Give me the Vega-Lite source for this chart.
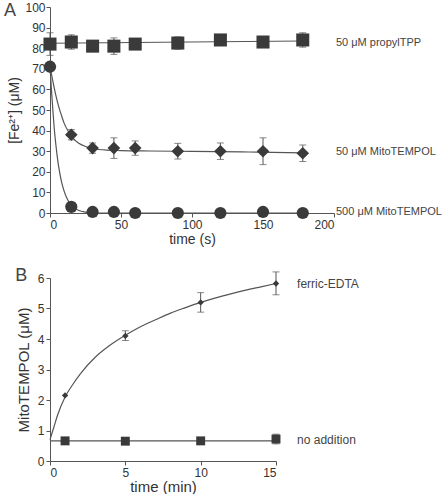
{
  "$schema": "https://vega.github.io/schema/vega-lite/v6.json",
  "padding": {"left": 3, "top": 1, "right": 0, "bottom": 0},
  "spacing": 21,
  "resolve": {"scale": {"shape": "independent", "size": "independent"}},
  "config": {
    "view": {"stroke": null},
    "font": "Liberation Sans",
    "axis": {"grid": false, "domainColor": "#555", "tickColor": "#555", "labelColor": "#333", "titleColor": "#333", "labelFont": "Liberation Sans", "titleFont": "Liberation Sans", "labelFontSize": 12, "titleFontSize": 14, "titleFontWeight": "normal", "tickSize": 4, "labelPadding": 2}
  },
  "datasets": {
    "a_pts": [
      {"series": "propylTPP", "t": 0, "v": 82, "lo": 76.5, "hi": 87.5},
      {"series": "propylTPP", "t": 15, "v": 83, "lo": 79.5, "hi": 86.5},
      {"series": "propylTPP", "t": 30, "v": 81, "lo": 80, "hi": 82},
      {"series": "propylTPP", "t": 45, "v": 81, "lo": 77, "hi": 85},
      {"series": "propylTPP", "t": 60, "v": 82, "lo": 81, "hi": 83},
      {"series": "propylTPP", "t": 90, "v": 82.5, "lo": 79.5, "hi": 85.5},
      {"series": "propylTPP", "t": 120, "v": 84, "lo": 83, "hi": 85},
      {"series": "propylTPP", "t": 150, "v": 83, "lo": 82, "hi": 84},
      {"series": "propylTPP", "t": 178, "v": 84, "lo": 80.5, "hi": 87.5},
      {"series": "m50", "t": 0, "v": 71, "lo": 70, "hi": 72},
      {"series": "m50", "t": 15, "v": 38, "lo": 35.5, "hi": 40.5},
      {"series": "m50", "t": 30, "v": 31.5, "lo": 29, "hi": 34},
      {"series": "m50", "t": 45, "v": 31.5, "lo": 26.5, "hi": 36.5},
      {"series": "m50", "t": 60, "v": 31.5, "lo": 28, "hi": 35},
      {"series": "m50", "t": 90, "v": 30, "lo": 26.2, "hi": 33.8},
      {"series": "m50", "t": 120, "v": 30, "lo": 26, "hi": 34},
      {"series": "m50", "t": 150, "v": 30, "lo": 23.5, "hi": 36.5},
      {"series": "m50", "t": 178, "v": 29, "lo": 25, "hi": 33},
      {"series": "m500", "t": 0, "v": 71, "lo": 70, "hi": 72},
      {"series": "m500", "t": 15, "v": 3, "lo": 2.5, "hi": 3.5},
      {"series": "m500", "t": 30, "v": 0.5, "lo": 0, "hi": 1},
      {"series": "m500", "t": 45, "v": 0.5, "lo": 0, "hi": 1},
      {"series": "m500", "t": 60, "v": 0, "lo": 0, "hi": 0.5},
      {"series": "m500", "t": 90, "v": 0, "lo": 0, "hi": 0.5},
      {"series": "m500", "t": 120, "v": 0, "lo": 0, "hi": 0.5},
      {"series": "m500", "t": 150, "v": 0.5, "lo": 0, "hi": 1},
      {"series": "m500", "t": 178, "v": 0, "lo": -1.5, "hi": 2}
    ],
    "a_fit": [
      {"series": "propylTPP", "t": 0, "v": 82.4},
      {"series": "propylTPP", "t": 178, "v": 83.5},
      {"series": "m50", "t": 0, "v": 71},
      {"series": "m50", "t": 2, "v": 64},
      {"series": "m50", "t": 4, "v": 57.5},
      {"series": "m50", "t": 6, "v": 52},
      {"series": "m50", "t": 8, "v": 47.5},
      {"series": "m50", "t": 10, "v": 43.5},
      {"series": "m50", "t": 13, "v": 39.5},
      {"series": "m50", "t": 16, "v": 36.5},
      {"series": "m50", "t": 20, "v": 34},
      {"series": "m50", "t": 25, "v": 32.3},
      {"series": "m50", "t": 30, "v": 31.3},
      {"series": "m50", "t": 40, "v": 30.5},
      {"series": "m50", "t": 50, "v": 30.3},
      {"series": "m50", "t": 70, "v": 30.1},
      {"series": "m50", "t": 100, "v": 29.9},
      {"series": "m50", "t": 140, "v": 29.6},
      {"series": "m50", "t": 178, "v": 29.2},
      {"series": "m500", "t": 0, "v": 71},
      {"series": "m500", "t": 1, "v": 60},
      {"series": "m500", "t": 2, "v": 50},
      {"series": "m500", "t": 3, "v": 41},
      {"series": "m500", "t": 4, "v": 34},
      {"series": "m500", "t": 5, "v": 28},
      {"series": "m500", "t": 6, "v": 23},
      {"series": "m500", "t": 8, "v": 15.5},
      {"series": "m500", "t": 10, "v": 10.5},
      {"series": "m500", "t": 12, "v": 7},
      {"series": "m500", "t": 14, "v": 4.6},
      {"series": "m500", "t": 17, "v": 2.5},
      {"series": "m500", "t": 20, "v": 1.3},
      {"series": "m500", "t": 25, "v": 0.4},
      {"series": "m500", "t": 32, "v": 0},
      {"series": "m500", "t": 180, "v": 0}
    ],
    "a_lab": [
      {"t": 201.4, "v": 82.5, "label": "50 μM propylTPP"},
      {"t": 201.4, "v": 29.5, "label": "50 μM MitoTEMPOL"},
      {"t": 201.4, "v": 0.5, "label": "500 μM MitoTEMPOL"},
      {"t": -32.4, "v": 98, "label": "A", "big": true}
    ],
    "b_pts": [
      {"series": "ferric", "t": 1, "v": 2.15, "lo": 2.15, "hi": 2.15},
      {"series": "ferric", "t": 5, "v": 4.1, "lo": 3.95, "hi": 4.27},
      {"series": "ferric", "t": 10, "v": 5.2, "lo": 4.88, "hi": 5.52},
      {"series": "ferric", "t": 15, "v": 5.82, "lo": 5.45, "hi": 6.2},
      {"series": "none", "t": 1, "v": 0.66, "lo": 0.66, "hi": 0.66},
      {"series": "none", "t": 5, "v": 0.65, "lo": 0.65, "hi": 0.65},
      {"series": "none", "t": 10, "v": 0.66, "lo": 0.66, "hi": 0.66},
      {"series": "none", "t": 15, "v": 0.72, "lo": 0.56, "hi": 0.88}
    ],
    "b_fit": [
      {"series": "ferric", "t": 0, "v": 0.7},
      {"series": "ferric", "t": 0.25, "v": 1.1},
      {"series": "ferric", "t": 0.5, "v": 1.5},
      {"series": "ferric", "t": 1, "v": 2.1},
      {"series": "ferric", "t": 1.5, "v": 2.5},
      {"series": "ferric", "t": 2, "v": 2.85},
      {"series": "ferric", "t": 3, "v": 3.4},
      {"series": "ferric", "t": 4, "v": 3.8},
      {"series": "ferric", "t": 5, "v": 4.12},
      {"series": "ferric", "t": 6, "v": 4.4},
      {"series": "ferric", "t": 7, "v": 4.63},
      {"series": "ferric", "t": 8, "v": 4.85},
      {"series": "ferric", "t": 9, "v": 5.03},
      {"series": "ferric", "t": 10, "v": 5.2},
      {"series": "ferric", "t": 11, "v": 5.35},
      {"series": "ferric", "t": 12, "v": 5.48},
      {"series": "ferric", "t": 13, "v": 5.6},
      {"series": "ferric", "t": 14, "v": 5.71},
      {"series": "ferric", "t": 15, "v": 5.82},
      {"series": "none", "t": 0, "v": 0.66},
      {"series": "none", "t": 15, "v": 0.66}
    ],
    "b_lab": [
      {"t": 16.4, "v": 5.8, "label": "ferric-EDTA"},
      {"t": 16.4, "v": 0.7, "label": "no addition"},
      {"t": -2.3, "v": 6.05, "label": "B", "big": true}
    ]
  },
  "vconcat": [
    {
      "width": 284,
      "height": 206,
      "encoding": {
        "x": {"field": "t", "type": "quantitative", "scale": {"domain": [0, 200], "nice": false}, "axis": {"values": [0, 50, 100, 150, 200], "title": "time (s)", "titlePadding": 2}},
        "y": {"field": "v", "type": "quantitative", "scale": {"domain": [0, 100], "nice": false}, "axis": {"values": [0, 10, 20, 30, 40, 50, 60, 70, 80, 90, 100], "title": "[Fe²⁺] (μM)", "titlePadding": 3, "labelPadding": 1, "titleFontSize": 14}}
      },
      "layer": [
        {
          "data": {"name": "a_fit"},
          "mark": {"type": "line", "color": "#555", "strokeWidth": 1.2, "interpolate": "monotone"},
          "encoding": {"detail": {"field": "series"}}
        },
        {
          "data": {"name": "a_pts"},
          "mark": {"type": "rule", "color": "#555", "strokeWidth": 1},
          "encoding": {"y": {"field": "lo", "type": "quantitative"}, "y2": {"field": "hi"}}
        },
        {
          "data": {"name": "a_pts"},
          "mark": {"type": "tick", "color": "#555", "orient": "horizontal", "size": 7, "thickness": 1},
          "encoding": {"y": {"field": "lo", "type": "quantitative"}}
        },
        {
          "data": {"name": "a_pts"},
          "mark": {"type": "tick", "color": "#555", "orient": "horizontal", "size": 7, "thickness": 1},
          "encoding": {"y": {"field": "hi", "type": "quantitative"}}
        },
        {
          "data": {"name": "a_pts"},
          "mark": {"type": "point", "filled": true, "opacity": 1, "color": "#3a3a3a"},
          "encoding": {
            "shape": {"field": "series", "type": "nominal", "scale": {"domain": ["propylTPP", "m50", "m500"], "range": ["square", "diamond", "circle"]}, "legend": null},
            "size": {"field": "series", "type": "nominal", "scale": {"domain": ["propylTPP", "m50", "m500"], "range": [170, 150, 110]}, "legend": null}
          }
        },
        {
          "data": {"name": "a_lab"},
          "mark": {"type": "text", "align": "left", "baseline": "middle", "color": "#444"},
          "encoding": {
            "text": {"field": "label"},
            "size": {"condition": {"test": "datum.big", "value": 18}, "value": 11}
          }
        }
      ]
    },
    {
      "width": 226,
      "height": 183,
      "encoding": {
        "x": {"field": "t", "type": "quantitative", "scale": {"domain": [0, 15], "nice": false}, "axis": {"values": [0, 5, 10, 15], "title": "time (min)", "titlePadding": 1, "titleFontSize": 15}},
        "y": {"field": "v", "type": "quantitative", "scale": {"domain": [0, 6], "nice": false}, "axis": {"values": [0, 1, 2, 3, 4, 5, 6], "title": "MitoTEMPOL (μM)", "titlePadding": 6, "titleFontSize": 15}}
      },
      "layer": [
        {
          "data": {"name": "b_fit"},
          "mark": {"type": "line", "color": "#555", "strokeWidth": 1.2, "interpolate": "monotone"},
          "encoding": {"detail": {"field": "series"}}
        },
        {
          "data": {"name": "b_pts"},
          "mark": {"type": "rule", "color": "#555", "strokeWidth": 1},
          "encoding": {"y": {"field": "lo", "type": "quantitative"}, "y2": {"field": "hi"}}
        },
        {
          "data": {"name": "b_pts"},
          "transform": [{"filter": "datum.hi > datum.lo"}],
          "mark": {"type": "tick", "color": "#555", "orient": "horizontal", "size": 7, "thickness": 1},
          "encoding": {"y": {"field": "lo", "type": "quantitative"}}
        },
        {
          "data": {"name": "b_pts"},
          "transform": [{"filter": "datum.hi > datum.lo"}],
          "mark": {"type": "tick", "color": "#555", "orient": "horizontal", "size": 7, "thickness": 1},
          "encoding": {"y": {"field": "hi", "type": "quantitative"}}
        },
        {
          "data": {"name": "b_pts"},
          "mark": {"type": "point", "filled": true, "opacity": 1, "color": "#3a3a3a"},
          "encoding": {
            "shape": {"field": "series", "type": "nominal", "scale": {"domain": ["ferric", "none"], "range": ["diamond", "square"]}, "legend": null},
            "size": {"field": "series", "type": "nominal", "scale": {"domain": ["ferric", "none"], "range": [40, 80]}, "legend": null}
          }
        },
        {
          "data": {"name": "b_lab"},
          "mark": {"type": "text", "align": "left", "baseline": "middle", "color": "#444"},
          "encoding": {
            "text": {"field": "label"},
            "size": {"condition": {"test": "datum.big", "value": 18}, "value": 12}
          }
        }
      ]
    }
  ]
}
